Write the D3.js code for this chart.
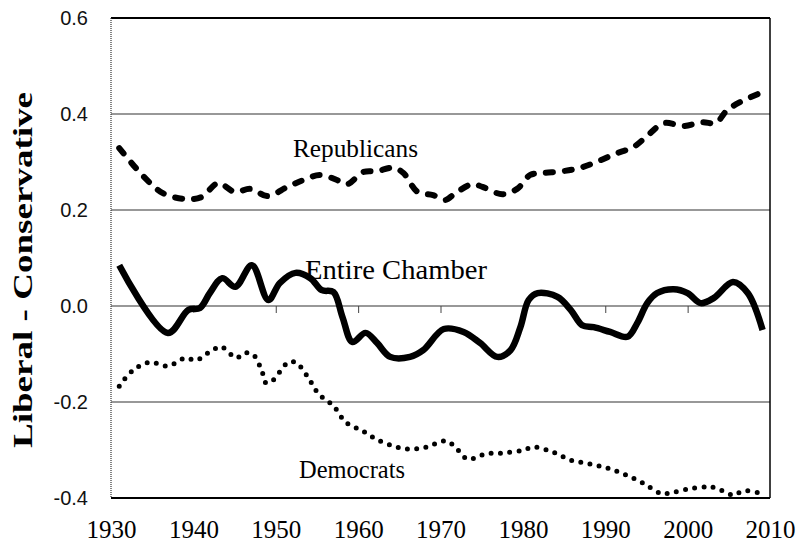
<!DOCTYPE html>
<html>
<head>
<meta charset="utf-8">
<script src="https://cdn.jsdelivr.net/npm/d3@7"></script>
<style>
  body { margin: 0; background: #fff; }
</style>
</head>
<body>
<script>
// values
const repYears = [1931, 1934, 1936.3, 1939, 1941, 1943, 1945, 1947, 1949, 1951.4, 1953.3, 1955.4, 1957.5, 1958.7, 1960.6, 1962.3, 1964.3, 1965.5, 1967.2, 1969.1, 1970.6, 1971.8, 1973.9, 1975.1, 1977.5, 1979.3, 1980.9, 1982.5, 1984.9, 1987, 1989.2, 1991.2, 1993.4, 1995.2, 1997.1, 1999.5, 2001.8, 2003.4, 2004.8, 2006.4, 2009];
const repValues = [0.329, 0.269, 0.235, 0.223, 0.227, 0.256, 0.238, 0.244, 0.229, 0.248, 0.262, 0.273, 0.262, 0.254, 0.279, 0.281, 0.288, 0.277, 0.238, 0.231, 0.221, 0.235, 0.254, 0.248, 0.233, 0.244, 0.273, 0.277, 0.281, 0.288, 0.302, 0.317, 0.331, 0.356, 0.381, 0.375, 0.383, 0.381, 0.408, 0.425, 0.445];

const allYears = [1931, 1936.9, 1939.4, 1940.8, 1942, 1943.5, 1945.1, 1947.1, 1949.1, 1950.5, 1952.4, 1954.2, 1955.6, 1957, 1958.1, 1959.3, 1960.9, 1962.3, 1963.9, 1966.3, 1967.9, 1970.4, 1972.8, 1974.8, 1976.9, 1978.5, 1979.7, 1980.7, 1981.8, 1984.2, 1985.8, 1987.2, 1988.6, 1990.6, 1992.7, 1993.9, 1995.1, 1996.3, 1998.3, 2000, 2001.6, 2003.2, 2005.5, 2007.3, 2009.1];
const allValues = [0.085, -0.056, -0.008, -0.004, 0.027, 0.058, 0.04, 0.085, 0.0125, 0.048, 0.069, 0.058, 0.033, 0.029, -0.023, -0.075, -0.056, -0.077, -0.106, -0.106, -0.092, -0.048, -0.054, -0.077, -0.106, -0.092, -0.044, 0.0125, 0.027, 0.019, -0.008, -0.04, -0.044, -0.054, -0.064, -0.035, 0.006, 0.027, 0.035, 0.027, 0.006, 0.017, 0.05, 0.027, -0.05];

const demYears = [1931, 1932.6, 1934.7, 1936.9, 1939.1, 1940.3, 1942.3, 1943.4, 1945.2, 1946.2, 1947.3, 1948.4, 1948.8, 1949.7, 1951.4, 1952.4, 1953.9, 1955.2, 1957, 1958.5, 1960.5, 1962.4, 1964.7, 1966.5, 1968.3, 1970.5, 1971.6, 1973.3, 1975.5, 1977.8, 1980.1, 1981.3, 1983.6, 1985.8, 1988.1, 1990.3, 1992.5, 1994.6, 1996.7, 1997.8, 2000.1, 2002.3, 2003.4, 2005.6, 2006.7, 2008.9];
const demValues = [-0.167, -0.135, -0.117, -0.125, -0.108, -0.113, -0.092, -0.085, -0.108, -0.098, -0.102, -0.14, -0.16, -0.154, -0.119, -0.117, -0.148, -0.183, -0.208, -0.242, -0.26, -0.279, -0.294, -0.298, -0.294, -0.281, -0.29, -0.319, -0.308, -0.306, -0.3, -0.294, -0.304, -0.321, -0.329, -0.338, -0.352, -0.369, -0.39, -0.39, -0.381, -0.377, -0.379, -0.394, -0.385, -0.39];

const xTicks = [1930, 1940, 1950, 1960, 1970, 1980, 1990, 2000, 2010];
const yTicks = [-0.4, -0.2, 0.0, 0.2, 0.4, 0.6];
const gridValues = [-0.2, 0.0, 0.2, 0.4];

const width = 797, height = 543;
const plotLeft = 111, plotRight = 770, plotTop = 18, plotBottom = 498;

const x = d3.scaleLinear().domain([1930, 2010]).range([plotLeft, plotRight]);
const y = d3.scaleLinear().domain([-0.4, 0.6]).range([plotBottom, plotTop]);

const svg = d3.select("body").append("svg")
    .attr("width", width)
    .attr("height", height);

// grid lines
svg.append("g")
    .selectAll("line")
    .data(gridValues)
    .join("line")
    .attr("x1", plotLeft).attr("x2", plotRight)
    .attr("y1", d => y(d)).attr("y2", d => y(d))
    .attr("stroke", "#333")
    .attr("stroke-width", 1.2);

// small ticks hanging from the zero line
svg.append("g")
    .attr("transform", `translate(0,${y(0)})`)
    .call(d3.axisBottom(x).tickValues(xTicks.slice(1, -1)).tickSize(7).tickFormat(""))
    .call(g => g.select(".domain").remove())
    .call(g => g.selectAll("line").attr("stroke", "#444").attr("stroke-width", 1));

// frame
svg.append("line").attr("x1", plotLeft).attr("x2", plotRight).attr("y1", plotTop).attr("y2", plotTop)
    .attr("stroke", "#000").attr("stroke-width", 2);
svg.append("line").attr("x1", plotLeft).attr("x2", plotRight).attr("y1", plotBottom).attr("y2", plotBottom)
    .attr("stroke", "#000").attr("stroke-width", 2);
svg.append("line").attr("x1", plotRight).attr("x2", plotRight).attr("y1", plotTop).attr("y2", plotBottom)
    .attr("stroke", "#000").attr("stroke-width", 1.5);
svg.append("line").attr("x1", plotLeft).attr("x2", plotLeft).attr("y1", plotTop).attr("y2", plotBottom)
    .attr("stroke", "#333").attr("stroke-width", 1.2).attr("stroke-dasharray", "1,1");

// axes labels
svg.append("g")
    .attr("transform", `translate(0,${plotBottom})`)
    .call(d3.axisBottom(x).tickValues(xTicks).tickSize(0).tickPadding(22).tickFormat(d => d))
    .call(g => g.select(".domain").remove())
    .call(g => g.selectAll("text")
        .attr("font-family", "'Liberation Serif', 'Times New Roman', serif")
        .attr("font-size", 25)
        .attr("fill", "#000"));

svg.append("g")
    .attr("transform", `translate(${plotLeft},0)`)
    .call(d3.axisLeft(y).tickValues(yTicks).tickSize(0).tickPadding(23).tickFormat(d => d.toFixed(1)))
    .call(g => g.select(".domain").remove())
    .call(g => g.selectAll("text")
        .attr("font-family", "'Liberation Sans', Arial, sans-serif")
        .attr("font-size", 20)
        .attr("fill", "#111"));

svg.append("text")
    .attr("transform", "translate(32,270) rotate(-90)")
    .attr("text-anchor", "middle")
    .attr("font-family", "'Liberation Serif', 'Times New Roman', serif")
    .attr("font-weight", "bold")
    .attr("font-size", 28)
    .attr("textLength", 356)
    .attr("lengthAdjust", "spacingAndGlyphs")
    .text("Liberal  -  Conservative");

// series
const line = d3.line()
    .x(d => x(d[0]))
    .y(d => y(d[1]))
    .curve(d3.curveCatmullRom.alpha(0.5));

const rep = repYears.map((d, i) => [d, repValues[i]]);
const all = allYears.map((d, i) => [d, allValues[i]]);
const dem = demYears.map((d, i) => [d, demValues[i]]);

svg.append("path")
    .attr("d", line(rep))
    .attr("fill", "none")
    .attr("stroke", "#000")
    .attr("stroke-width", 6)
    .attr("stroke-linecap", "round")
    .attr("stroke-dasharray", "7,12");

svg.append("path")
    .attr("d", line(all))
    .attr("fill", "none")
    .attr("stroke", "#000")
    .attr("stroke-width", 6.5)
    .attr("stroke-linejoin", "round");

svg.append("path")
    .attr("d", line(dem))
    .attr("fill", "none")
    .attr("stroke", "#000")
    .attr("stroke-width", 5)
    .attr("stroke-linecap", "round")
    .attr("stroke-dasharray", "0,9.3");

// series names
const serif = "'Liberation Serif', 'Times New Roman', serif";
svg.append("text").attr("x", 293).attr("y", 157)
    .attr("font-family", serif).attr("font-size", 26)
    .attr("textLength", 125).attr("lengthAdjust", "spacingAndGlyphs")
    .text("Republicans");
svg.append("text").attr("x", 305).attr("y", 279)
    .attr("font-family", serif).attr("font-size", 27)
    .attr("textLength", 182).attr("lengthAdjust", "spacingAndGlyphs")
    .text("Entire Chamber");
svg.append("text").attr("x", 299).attr("y", 478)
    .attr("font-family", serif).attr("font-size", 25)
    .attr("textLength", 106).attr("lengthAdjust", "spacingAndGlyphs")
    .text("Democrats");
</script>
</body>
</html>
